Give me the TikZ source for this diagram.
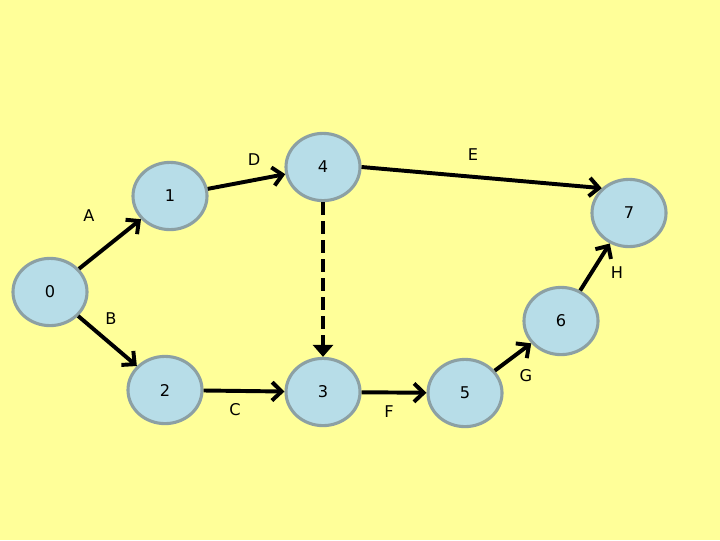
\documentclass[tikz,border=0pt]{standalone}
\usepackage{fontspec}
\setmainfont{DejaVu Sans}
\usetikzlibrary{positioning, arrows.meta, shapes.geometric}

\definecolor{bgyellow}{RGB}{255,255,153}
\definecolor{nodeblue}{RGB}{183,221,232}
\definecolor{nodeedge}{RGB}{140,160,164}

\tikzset{
	event/.style={ellipse, draw=nodeedge, line width=2.2pt, fill=nodeblue,
		minimum width=1.85cm, minimum height=1.68cm, inner sep=0pt,
		font=\fontsize{11.5}{13}\selectfont},
	activity/.style={line width=2.8pt, -{Straight Barb[length=2.4mm, width=4.6mm]}},
	dummy/.style={line width=2.8pt, dash pattern=on 9pt off 4.5pt,
		-{Triangle[length=3mm, width=5mm]}},
	actlabel/.style={font=\fontsize{11.5}{13}\selectfont}
}

\begin{document}
\begin{tikzpicture}[x=0.025cm, y=-0.025cm]
			\fill[bgyellow] (0, 0) rectangle (720, 540);
			\useasboundingbox (0, 0) rectangle (720, 540);
			
			\node[event] (n0) at (50, 292)  {0};
			\node[event] (n1) at (170, 196) {1};
			\node[event] (n2) at (165, 390) {2};
			\node[event] (n3) at (323, 392) {3};
			\node[event] (n4) at (323, 167) {4};
			\node[event] (n5) at (465, 393) {5};
			\node[event] (n6) at (561, 321) {6};
			\node[event] (n7) at (629, 213) {7};
			
			\draw[activity] (n0) -- (n1);
			\draw[activity] (n0) -- (n2);
			\draw[activity] (n2) -- (n3);
			\draw[activity] (n1) -- (n4);
			\draw[activity] (n4.east) -- (n7.north west);
			\draw[dummy] (n4) -- (n3);
			\draw[activity] (n3) -- (n5);
			\draw[activity] (n5) -- (n6);
			\draw[activity] (n6) -- (n7);
			
			\node[actlabel] (la) at (89, 216)  {A};
			\node[actlabel] (lb) at (111, 319) {B};
			\node[actlabel] (lc) at (235, 410) {C};
			\node[actlabel] (ld) at (254, 160) {D};
			\node[actlabel] (le) at (473, 155) {E};
			\node[actlabel] (lf) at (389, 412) {F};
			\node[actlabel] (lg) at (526, 376) {G};
			\node[actlabel] (lh) at (617, 273) {H};
		\end{tikzpicture}
\end{document}
